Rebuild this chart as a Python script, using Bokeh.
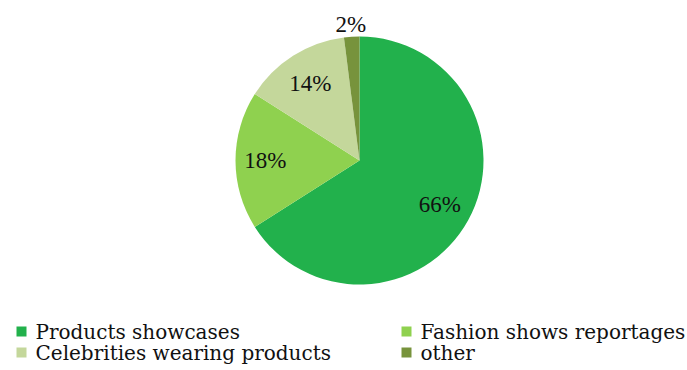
import math
from bokeh.plotting import figure
from bokeh.models import Range1d, ColumnDataSource
from bokeh.core.properties import value
from bokeh.embed import file_html
from bokeh.resources import INLINE

categories = ["Products showcases", "Fashion shows reportages", "Celebrities wearing products", "other"]
shares = [66, 18, 14, 2]
labels = ["66%", "18%", "14%", "2%"]
colors = ["#22b14c", "#8fd14f", "#c4d79b", "#77933c"]

W, H = 687, 370
p = figure(width=W, height=H, output_backend="svg", toolbar_location=None,
           x_range=Range1d(0, W), y_range=Range1d(0, H), min_border=0)
p.axis.visible = False
p.grid.visible = False
p.outline_line_color = None
p.background_fill_color = "white"
p.border_fill_color = "white"

cx, cy, r = 359, H - 160, 124
label_r = [0.74, 0.76, 0.74, 1.10]

total = sum(shares)
starts, ends, lx, ly = [], [], [], []
acc = 0.0
for i, s in enumerate(shares):
    t0 = acc / total * 2 * math.pi
    acc += s
    t1 = acc / total * 2 * math.pi
    starts.append(math.pi / 2 - t0)
    ends.append(math.pi / 2 - t1)
    mid = (t0 + t1) / 2
    lx.append(cx + label_r[i] * r * math.sin(mid))
    ly.append(cy + label_r[i] * r * math.cos(mid))

src = ColumnDataSource(dict(start=starts, end=ends, color=colors, lx=lx, ly=ly, lab=labels))
p.wedge(x=cx, y=cy, radius=r, start_angle="start", end_angle="end", direction="clock",
        fill_color="color", line_color=None, source=src)
p.text(x="lx", y="ly", text="lab", source=src, text_align="center", text_baseline="middle",
       text_font=value("Liberation Serif"), text_font_size="23px", text_color="#111111")

# legend
leg_x = [21, 406, 21, 406]
leg_y = [H - 331, H - 331, H - 352, H - 352]
lsrc = ColumnDataSource(dict(x=leg_x, y=leg_y, tx=[x + 14 for x in leg_x], name=categories, color=colors))
p.rect(x="x", y="y", width=10, height=10, fill_color="color", line_color=None, source=lsrc)
p.text(x="tx", y="y", text="name", source=lsrc, text_align="left", text_baseline="middle",
       text_font=value("DejaVu Serif"), text_font_size="20px", text_color="#111111")

open("out.html", "w").write(file_html(p, INLINE))
